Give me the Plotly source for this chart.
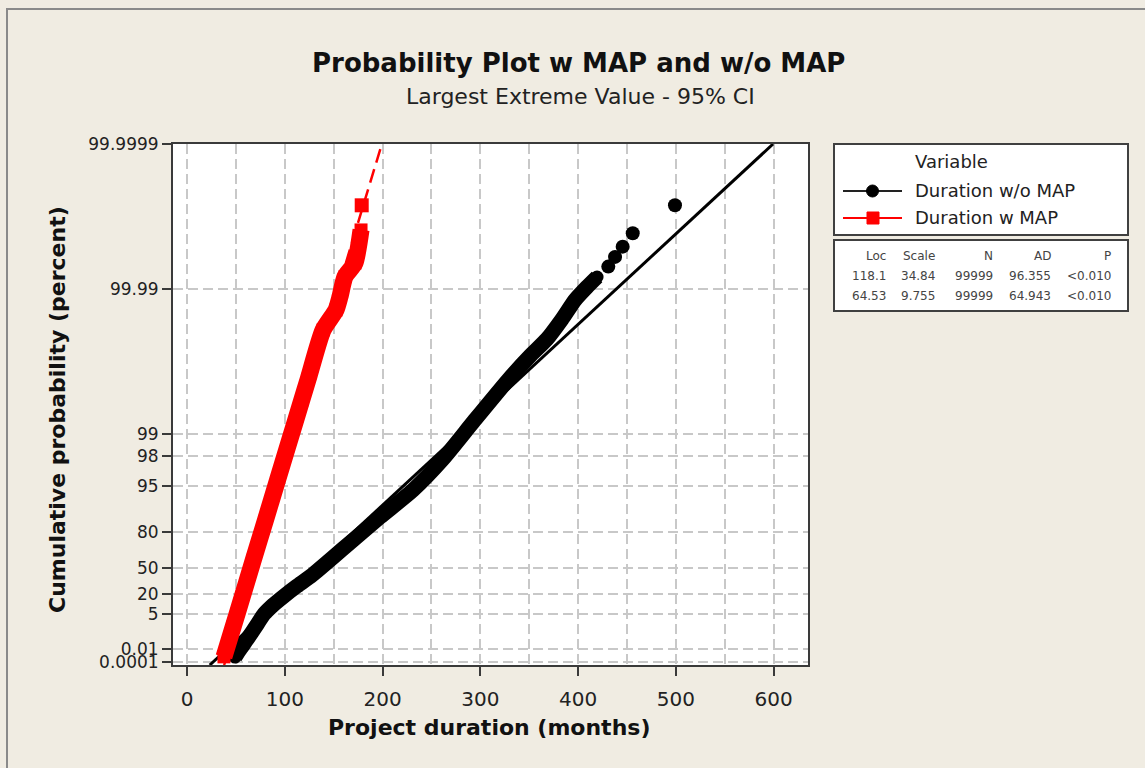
import numpy as np
import plotly.graph_objects as go

# ---------------- data ----------------
# Duration w/o MAP : dense band of plotted points (months, cumulative percent)
nomap_band_x = [49.1, 55.2, 62.4, 70.6, 78.8, 88.0, 99.2, 112.5, 127.9, 161.6, 197.4,
                231.2, 261.8, 293.5, 328.3, 350.8, 368.2, 383.6, 396.9, 409.1, 419.4]
nomap_band_pct = [0.00073, 0.0138, 0.155, 1.20, 4.87, 10.3, 18.2, 28.9, 41.6, 69.8, 87.0,
                  94.28, 97.82, 99.343, 99.8207, 99.9163, 99.9512, 99.9741, 99.98587,
                  99.99063, 99.99319]
# isolated largest observations
nomap_top_x = [430.9, 437.8, 445.6, 455.9, 499.1]
nomap_top_pct = [99.9951, 99.9964, 99.9974, 99.9983, 99.9993]

# Duration w MAP
map_band_x = [37.8, 47.2, 56.5, 67.8, 80.2, 92.6, 102.9, 117.4, 123.9, 139.1, 152.4,
              156.5, 161.6, 171.8, 178.0]
map_band_pct = [0.0008, 1.09, 17.5, 58.1, 85.8, 95.8, 98.52, 99.662, 99.826, 99.9633,
                99.9806, 99.9873, 99.99325, 99.99563, 99.99847]
map_top_x = [178.7]
map_top_pct = [99.9993]

# fitted distribution parameters (table)
series_names = ["Duration w/o MAP", "Duration w MAP"]
fit_loc = [118.1, 64.53]
fit_scale = [34.84, 9.755]
fit_n = ["99999", "99999"]
fit_ad = ["96.355", "64.943"]
fit_p = ["<0.010", "<0.010"]

y_tick_pct = [0.0001, 0.01, 5, 20, 50, 80, 95, 98, 99, 99.99, 99.9999]
y_tick_text = ["0.0001", "0.01", "5", "20", "50", "80", "95", "98", "99", "99.99", "99.9999"]
x_tick_vals = [0, 100, 200, 300, 400, 500, 600]


# largest-extreme-value probability scale
def lev(pct):
    return -np.log(-np.log(np.asarray(pct, dtype=float) / 100.0))


# ---------------- layout geometry ----------------
W, H = 1145, 768
L, R, T, B = 173, 808, 144, 665
PW, PH = R - L, B - T


def px(x):
    return (x - L) / PW


def py(y):
    return (B - y) / PH


FONT = "DejaVu Sans"
y_top = float(lev(99.9999))
y_bot = float(lev(0.0001)) - 3.0 / 31.5
t_line = np.array([y_bot, y_top])

fig = go.Figure()

fig.add_trace(go.Scatter(
    x=nomap_band_x, y=lev(nomap_band_pct), mode="lines+markers",
    line=dict(color="black", width=15, shape="spline", smoothing=0.6),
    marker=dict(symbol="circle", size=13, color="black"),
    showlegend=False, hoverinfo="skip"))
fig.add_trace(go.Scatter(
    x=nomap_top_x, y=lev(nomap_top_pct), mode="markers",
    marker=dict(symbol="circle", size=14, color="black"),
    showlegend=False, hoverinfo="skip"))
fig.add_trace(go.Scatter(
    x=fit_loc[0] + fit_scale[0] * t_line, y=t_line, mode="lines",
    line=dict(color="black", width=3), showlegend=False, hoverinfo="skip"))

fig.add_trace(go.Scatter(
    x=map_band_x, y=lev(map_band_pct), mode="lines+markers",
    line=dict(color="#FF0000", width=17, shape="spline", smoothing=0.6),
    marker=dict(symbol="square", size=13, color="#FF0000"),
    showlegend=False, hoverinfo="skip"))
fig.add_trace(go.Scatter(
    x=map_top_x, y=lev(map_top_pct), mode="markers",
    marker=dict(symbol="square", size=14, color="#FF0000"),
    showlegend=False, hoverinfo="skip"))
fig.add_trace(go.Scatter(
    x=fit_loc[1] + fit_scale[1] * t_line, y=t_line, mode="lines",
    line=dict(color="#FF0000", width=2.5, dash="14px,7px"),
    showlegend=False, hoverinfo="skip"))

grid_col = "#C8C8C8"
axis_col = "#3A3A3A"

fig.update_xaxes(
    range=[(L - 187) / 0.9777, (R - 187) / 0.9777],
    tickvals=x_tick_vals, ticktext=[str(v) for v in x_tick_vals],
    ticks="outside", ticklen=9, tickwidth=2, tickcolor=axis_col,
    showline=True, linecolor=axis_col, linewidth=2, mirror=True,
    showgrid=True, gridcolor=grid_col, gridwidth=2, griddash="10px,5px",
    minor=dict(dtick=50, tick0=0, showgrid=True, gridcolor=grid_col, gridwidth=2,
               griddash="10px,5px", ticks=""),
    zeroline=False, ticklabelstandoff=6,
    tickfont=dict(family=FONT, size=20, color="#222"))
fig.update_yaxes(
    range=[y_bot, y_top],
    tickvals=lev(y_tick_pct), ticktext=y_tick_text,
    ticks="outside", ticklen=9, tickwidth=2, tickcolor=axis_col,
    showline=True, linecolor=axis_col, linewidth=2, mirror=True,
    showgrid=True, gridcolor=grid_col, gridwidth=2, griddash="10px,5px",
    zeroline=False,
    tickfont=dict(family=FONT, size=17, color="#222"))

ann = []


def text(x, y, s, size, xanchor="center", bold=False, color="#111", angle=0):
    ann.append(dict(x=px(x), y=py(y), xref="paper", yref="paper", text=("<b>%s</b>" % s) if bold else s,
                    showarrow=False, xanchor=xanchor, yanchor="middle", textangle=angle,
                    font=dict(family=FONT, size=size, color=color)))


text(578, 63, "Probability Plot w MAP and w/o MAP", 26, bold=True)
text(580, 97, "Largest Extreme Value - 95% CI", 22, color="#222")
text(489, 727, "Project duration (months)", 22, bold=True)
text(57, 410, "Cumulative probability (percent)", 22, bold=True, angle=-90)

# legend
text(913, 162, "Variable", 18, xanchor="left", color="#222")
text(913, 191, series_names[0], 18, xanchor="left", color="#222")
text(913, 218, series_names[1], 18, xanchor="left", color="#222")

# table
col_right = [888, 937, 995, 1053, 1113]
headers = ["Loc", "Scale", "N", "AD", "P"]
for j, h in enumerate(headers):
    text(col_right[j], 256, h, 12, xanchor="right", color="#444")
for i in range(2):
    row = ["%g" % fit_loc[i], "%g" % fit_scale[i], fit_n[i], fit_ad[i], fit_p[i]]
    for j, v in enumerate(row):
        text(col_right[j], 276 + 20 * i, v, 12, xanchor="right", color="#444")

shapes = [
    dict(type="rect", xref="paper", yref="paper", x0=px(7), y0=py(9), x1=px(1170), y1=py(790),
         line=dict(color="#8A8A8A", width=2), fillcolor="rgba(0,0,0,0)"),
    dict(type="rect", xref="paper", yref="paper", x0=px(834), y0=py(144), x1=px(1128), y1=py(235),
         line=dict(color="#404040", width=2), fillcolor="white"),
    dict(type="rect", xref="paper", yref="paper", x0=px(834), y0=py(240), x1=px(1128), y1=py(311),
         line=dict(color="#404040", width=2), fillcolor="white"),
    dict(type="line", xref="paper", yref="paper", x0=px(843), y0=py(191), x1=px(902), y1=py(191),
         line=dict(color="#222", width=2)),
    dict(type="circle", xref="paper", yref="paper", x0=px(866.5), y0=py(185), x1=px(878.5), y1=py(197),
         line=dict(color="black", width=1), fillcolor="black"),
    dict(type="line", xref="paper", yref="paper", x0=px(843), y0=py(218), x1=px(902), y1=py(218),
         line=dict(color="#FF0000", width=2)),
    dict(type="rect", xref="paper", yref="paper", x0=px(867), y0=py(212), x1=px(879), y1=py(224),
         line=dict(color="#FF0000", width=1), fillcolor="#FF0000"),
]

fig.update_layout(
    width=W, height=H, autosize=False,
    margin=dict(l=L, r=W - R, t=T, b=H - B, pad=0),
    paper_bgcolor="#F0ECE2", plot_bgcolor="white",
    showlegend=False, annotations=ann, shapes=shapes,
    font=dict(family=FONT))

fig.write_html("out.html", config={"displayModeBar": False},
               post_script="document.body.style.margin='0';")
